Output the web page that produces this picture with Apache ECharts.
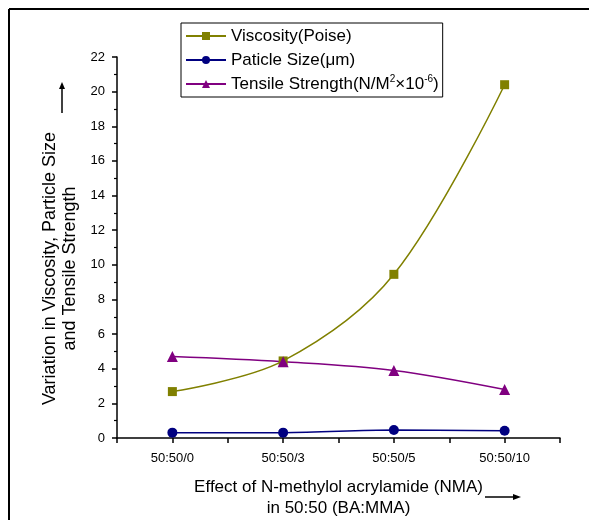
<!DOCTYPE html>
<html>
<head>
<meta charset="utf-8">
<script src="https://cdn.jsdelivr.net/npm/echarts@6/dist/echarts.min.js"></script>
<style>
  html, body { margin: 0; padding: 0; background: #fff; }
  #chart { width: 589px; height: 520px; }
</style>
</head>
<body>
<div id="chart"></div>
<script>
// categories on x axis
const categories = ['50:50/0', '50:50/3', '50:50/5', '50:50/10'];
// series values
const viscosity = [2.68, 4.45, 9.45, 20.4];
const particleSize = [0.31, 0.31, 0.46, 0.42];
const tensile = [4.7, 4.4, 3.9, 2.8];

const names = ['Viscosity(Poise)', 'Paticle Size(μm)', 'Tensile Strength(N/M2×10-6)'];

function pairs(vals) {
  return vals.map((v, i) => [i, v]);
}

let chart = echarts.init(document.getElementById('chart'));
const font = 'Liberation Sans, Arial, sans-serif';

let option = {
  backgroundColor: '#fff',
  animation: false,
  textStyle: { fontFamily: font },
  grid: { left: 117, right: 29, top: 57, bottom: 82, outerBoundsMode: 'none' },
  legend: {
    orient: 'vertical',
    left: 181,
    top: 23,
    padding: [3, 4, 3, 4],
    borderColor: '#000',
    borderWidth: 1,
    itemWidth: 40,
    itemHeight: 10,
    itemGap: 4,
    data: names,
    textStyle: {
      fontFamily: font,
      fontSize: 17,
      color: '#000',
      lineHeight: 20,
      rich: {
        sup: { fontSize: 10, fontFamily: font, color: '#000', verticalAlign: 'top', lineHeight: 10 }
      }
    },
    formatter: function (name) {
      if (name === names[2]) {
        return 'Tensile Strength(N/M{sup|2}×10{sup|-6})';
      }
      return name;
    }
  },
  xAxis: {
    type: 'value',
    min: -0.5,
    max: 3.5,
    interval: 0.5,
    splitLine: { show: false },
    axisLine: { show: true, onZero: false, lineStyle: { color: '#000', width: 1.5 } },
    axisTick: { show: true, length: 5, lineStyle: { color: '#000', width: 1.5 } },
    axisLabel: {
      color: '#000',
      fontSize: 13,
      margin: 14,
      showMinLabel: true,
      showMaxLabel: true,
      formatter: function (v) {
        return Number.isInteger(v) && categories[v] ? categories[v] : '';
      }
    },
    name: 'Effect of N-methylol acrylamide (NMA)\nin 50:50 (BA:MMA)',
    nameLocation: 'middle',
    nameGap: 39,
    nameTextStyle: { color: '#000', fontSize: 17, lineHeight: 21, fontFamily: font }
  },
  yAxis: {
    type: 'value',
    min: 0,
    max: 22,
    interval: 2,
    splitLine: { show: false },
    axisLine: { show: true, onZero: false, lineStyle: { color: '#000', width: 1.5 } },
    axisTick: { show: true, length: 5, lineStyle: { color: '#000', width: 1.5 } },
    minorTick: { show: true, splitNumber: 2, length: 3, lineStyle: { color: '#000', width: 1.2 } },
    axisLabel: { color: '#000', fontSize: 13, margin: 12 },
    name: 'Variation in Viscosity, Particle Size\nand Tensile Strength',
    nameLocation: 'middle',
    nameRotate: 90,
    nameGap: 27,
    // extra padding at the end of the text pushes it down towards the axis origin
    nameTextStyle: { color: '#000', fontSize: 18, lineHeight: 20, fontFamily: font, padding: [0, 42, 0, 0] }
  },
  series: [
    {
      name: names[0],
      type: 'line',
      smooth: 0.35,
      symbol: 'rect',
      symbolSize: 9,
      color: '#808000',
      lineStyle: { width: 1.5 },
      data: pairs(viscosity)
    },
    {
      name: names[1],
      type: 'line',
      smooth: 0.35,
      symbol: 'circle',
      symbolSize: 10,
      color: '#000080',
      lineStyle: { width: 1.5 },
      data: pairs(particleSize)
    },
    {
      name: names[2],
      type: 'line',
      smooth: 0.35,
      symbol: 'triangle',
      symbolSize: 11,
      color: '#800080',
      lineStyle: { width: 1.5 },
      data: pairs(tensile)
    }
  ],
  graphic: [
    // frame lines of the original figure
    { type: 'line', shape: { x1: 9, y1: 9, x2: 589, y2: 9 }, style: { stroke: '#000', lineWidth: 2 } },
    { type: 'line', shape: { x1: 9, y1: 9, x2: 9, y2: 520 }, style: { stroke: '#000', lineWidth: 2 } },
    // y arrow
    { type: 'line', shape: { x1: 62, y1: 113, x2: 62, y2: 88 }, style: { stroke: '#000', lineWidth: 1.5 } },
    { type: 'polygon', shape: { points: [[59, 89], [65, 89], [62, 82]] }, style: { fill: '#000' } },
    // x arrow
    { type: 'line', shape: { x1: 485, y1: 497, x2: 514, y2: 497 }, style: { stroke: '#000', lineWidth: 1.5 } },
    { type: 'polygon', shape: { points: [[513, 494], [513, 500], [521, 497]] }, style: { fill: '#000' } }
  ]
};

chart.setOption(option);
</script>
</body>
</html>
